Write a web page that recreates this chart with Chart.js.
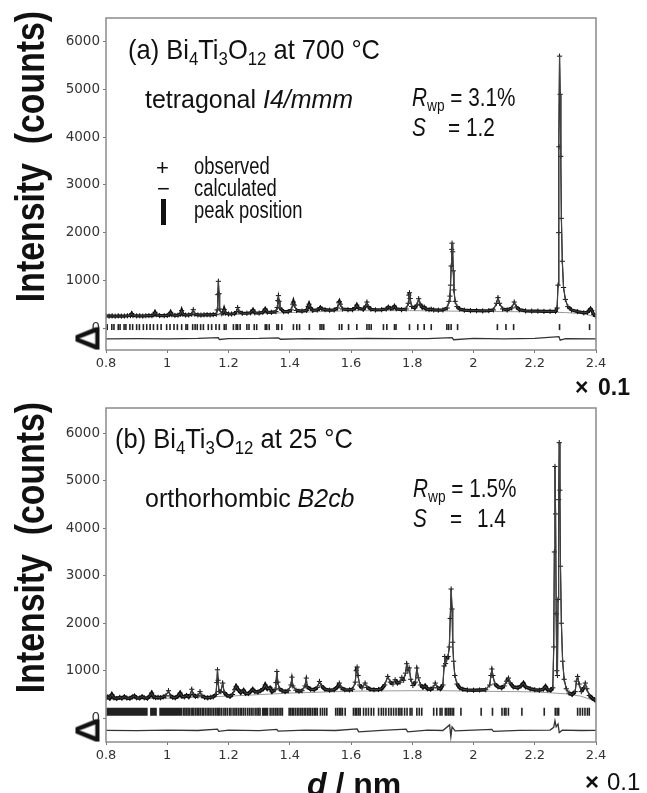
<!DOCTYPE html>
<html>
<head>
<meta charset="utf-8">
<script src="https://cdn.jsdelivr.net/npm/chart.js@4.4.1/dist/chart.umd.min.js"></script>
<style>
  html, body { margin: 0; padding: 0; background: #fff; }
  #wrap { position: relative; width: 647px; height: 793px; overflow: hidden; font-family: "Liberation Sans", Arial, sans-serif; color: #111; }
  canvas { position: absolute; left: 0; }
  .t { position: absolute; white-space: nowrap; line-height: 1; transform-origin: 0 0; }
  .t sub { font-size: 0.66em; vertical-align: -0.3em; line-height: 0; }
  .rot { position: absolute; white-space: nowrap; line-height: 1; text-align: center; font-weight: bold; }
  .bar { position: absolute; background: #111; }
</style>
</head>
<body>
<div id="wrap">
  <canvas id="chartA" width="647" height="380" style="top:0"></canvas>
  <canvas id="chartB" width="647" height="380" style="top:390px"></canvas>

  <!-- panel (a) -->
  <div class="t" style="left:128px;top:36px;font-size:28px;transform:scaleX(0.91)">(a) Bi<sub>4</sub>Ti<sub>3</sub>O<sub>12</sub> at 700 °C</div>
  <div class="t" style="left:145px;top:86px;font-size:26px;transform:scaleX(0.96)">tetragonal <i>I4/mmm</i></div>
  <div class="t" style="left:412px;top:85px;font-size:25px;transform:scaleX(0.83)"><i>R</i><sub>wp</sub> = 3.1%</div>
  <div class="t" style="left:412px;top:115px;font-size:25px;transform:scaleX(0.83)"><i>S</i></div>
  <div class="t" style="left:448px;top:115px;font-size:25px;transform:scaleX(0.83)">= 1.2</div>
  <div class="t" style="left:156px;top:157px;font-size:22px">+</div>
  <div class="t" style="left:157px;top:178px;font-size:22px">−</div>
  <div class="bar" style="left:161px;top:199px;width:5px;height:26px"></div>
  <div class="t" style="left:194px;top:155px;font-size:23px;transform:scaleX(0.8)">observed</div>
  <div class="t" style="left:194px;top:177px;font-size:23px;transform:scaleX(0.8)">calculated</div>
  <div class="t" style="left:194px;top:199px;font-size:23px;transform:scaleX(0.8)">peak position</div>
  <div class="t" style="left:575px;top:376px;font-size:23px;font-weight:bold">×</div>
  <div class="t" style="left:598px;top:376px;font-size:23px;font-weight:bold">0.1</div>

  <!-- panel (b) -->
  <div class="t" style="left:115px;top:425px;font-size:28px;transform:scaleX(0.91)">(b) Bi<sub>4</sub>Ti<sub>3</sub>O<sub>12</sub> at 25 °C</div>
  <div class="t" style="left:145px;top:485px;font-size:26px;transform:scaleX(0.96)">orthorhombic <i>B2cb</i></div>
  <div class="t" style="left:413px;top:476px;font-size:25px;transform:scaleX(0.83)"><i>R</i><sub>wp</sub> = 1.5%</div>
  <div class="t" style="left:413px;top:506px;font-size:25px;transform:scaleX(0.83)"><i>S</i></div>
  <div class="t" style="left:450px;top:506px;font-size:25px;transform:scaleX(0.83)">=</div>
  <div class="t" style="left:477px;top:506px;font-size:25px;transform:scaleX(0.83)">1.4</div>
  <div class="t" style="left:307px;top:768px;font-size:32px;font-weight:bold"><i>d</i> / nm</div>
  <div class="t" style="left:585px;top:770px;font-size:24px;font-weight:bold">×</div>
  <div class="t" style="left:607px;top:770px;font-size:24px">0.1</div>

  <!-- rotated axis titles -->
  <div class="rot" style="left:-170px;top:136px;width:400px;font-size:41px;transform:rotate(-90deg) scaleX(0.825)">Intensity&nbsp; (counts)</div>
  <div class="rot" style="left:-170px;top:527px;width:400px;font-size:41px;transform:rotate(-90deg) scaleX(0.825)">Intensity&nbsp; (counts)</div>
  <div class="rot" style="left:67px;top:321px;width:40px;font-size:35px;transform:rotate(-90deg)">Δ</div>
  <div class="rot" style="left:67px;top:713px;width:40px;font-size:35px;transform:rotate(-90deg)">Δ</div>
</div>

<script>
// ---- axis ticks
const xTicks = [0.8, 1, 1.2, 1.4, 1.6, 1.8, 2, 2.2, 2.4];
const yTicks = [0, 1000, 2000, 3000, 4000, 5000, 6000];

// ---- (a) 700 °C, tetragonal : [d (x0.1 nm), counts]
const obsA = [
  [0.800,255],[0.810,250],[0.820,255],[0.830,248],[0.840,256],[0.850,250],[0.860,252],[0.870,258],
  [0.880,262],[0.884,305],[0.888,262],[0.900,255],[0.910,258],[0.920,252],[0.930,258],[0.940,262],
  [0.950,260],[0.956,280],[0.960,330],[0.964,280],[0.975,262],[0.990,260],[1.000,265],[1.007,282],
  [1.011,330],[1.015,280],[1.025,265],[1.035,270],[1.043,290],[1.047,365],[1.051,290],[1.060,272],
  [1.070,275],[1.080,290],[1.085,385],[1.090,290],[1.100,275],[1.110,272],[1.120,278],[1.130,280],
  [1.140,275],[1.150,282],[1.160,290],[1.163,380],[1.165,700],[1.167,980],[1.169,720],[1.171,400],
  [1.178,300],[1.183,320],[1.186,390],[1.190,315],[1.200,295],[1.210,295],[1.220,305],[1.226,340],
  [1.230,430],[1.234,345],[1.245,310],[1.260,310],[1.272,320],[1.280,380],[1.286,320],[1.300,315],
  [1.312,330],[1.320,400],[1.327,335],[1.340,330],[1.355,345],[1.359,430],[1.361,580],[1.363,680],
  [1.365,560],[1.368,420],[1.380,345],[1.395,345],[1.405,380],[1.410,500],[1.412,545],[1.415,480],
  [1.422,370],[1.440,355],[1.455,370],[1.460,450],[1.463,500],[1.467,430],[1.475,370],[1.490,380],
  [1.497,410],[1.500,430],[1.505,405],[1.515,385],[1.530,375],[1.545,380],[1.556,420],[1.560,530],
  [1.562,555],[1.565,500],[1.572,400],[1.590,385],[1.605,385],[1.615,430],[1.619,480],[1.624,420],
  [1.640,390],[1.648,460],[1.652,545],[1.656,450],[1.665,395],[1.680,380],[1.700,385],[1.715,400],
  [1.722,440],[1.730,410],[1.737,420],[1.742,460],[1.748,405],[1.765,385],[1.780,400],[1.787,520],
  [1.789,690],[1.791,740],[1.793,620],[1.798,450],[1.808,420],[1.815,480],[1.821,615],[1.826,500],
  [1.833,430],[1.839,440],[1.845,400],[1.855,385],[1.862,395],[1.870,380],[1.885,375],[1.900,380],
  [1.914,420],[1.920,560],[1.923,670],[1.925,900],[1.927,1300],[1.929,1650],[1.930,1780],[1.932,1600],
  [1.934,1200],[1.936,800],[1.940,560],[1.946,450],[1.955,400],[1.970,375],[1.990,365],[2.010,365],
  [2.030,360],[2.050,365],[2.065,380],[2.075,520],[2.080,637],[2.085,520],[2.095,400],[2.110,380],
  [2.125,420],[2.133,545],[2.140,440],[2.150,385],[2.170,360],[2.190,355],[2.210,355],[2.230,350],
  [2.250,350],[2.268,350],[2.273,420],[2.276,900],[2.278,2000],[2.279,3800],[2.281,5700],[2.283,4900],
  [2.285,3600],[2.287,2300],[2.290,1400],[2.294,850],[2.300,600],[2.308,450],[2.320,380],[2.340,345],
  [2.360,320],[2.372,330],[2.378,370],[2.382,405],[2.386,370],[2.392,290],[2.400,245]
];
const calcA = obsA; // the fitted curve sits inside the observed markers at this scale
const bgA = [[0.8,240],[1.0,250],[1.2,280],[1.4,325],[1.6,365],[1.8,365],[2.0,350],[2.2,340],[2.3,325],[2.36,300],[2.4,232]];
const peaksA = [
  0.804,0.819,0.826,0.840,0.846,0.859,0.865,0.878,0.887,0.900,0.909,0.922,0.933,0.944,0.955,0.968,
  0.980,0.998,1.009,1.022,1.033,1.047,1.061,1.066,1.083,1.091,1.098,1.109,1.118,1.134,1.145,1.159,
  1.170,1.186,1.192,1.216,1.225,1.230,1.238,1.260,1.267,1.284,1.292,1.320,1.325,1.333,1.358,1.363,
  1.374,1.412,1.423,1.432,1.464,1.499,1.505,1.511,1.562,1.570,1.592,1.619,1.652,1.659,1.666,1.706,
  1.717,1.742,1.747,1.791,1.818,1.839,1.862,1.913,1.919,1.927,1.948,2.078,2.106,2.131,2.281,2.379
];
const diffA = [
  [0.8,-225],[0.9,-220],[1.0,-228],[1.1,-218],[1.167,-200],[1.170,-240],[1.2,-222],[1.3,-218],
  [1.363,-205],[1.370,-235],[1.45,-220],[1.55,-225],[1.65,-215],[1.75,-222],[1.85,-220],[1.930,-200],
  [1.935,-245],[2.0,-215],[2.1,-225],[2.2,-218],[2.279,-180],[2.283,-255],[2.3,-222],[2.4,-225]
];

// ---- (b) 25 °C, orthorhombic
const obsB = [
  [0.800,430],[0.806,450],[0.812,420],[0.819,500],[0.826,430],[0.835,415],[0.845,440],[0.852,420],
  [0.860,455],[0.868,425],[0.878,420],[0.886,450],[0.893,470],[0.900,430],[0.910,425],[0.918,455],
  [0.925,430],[0.935,420],[0.942,460],[0.949,530],[0.955,450],[0.962,435],[0.970,440],[0.978,430],
  [0.987,450],[0.995,470],[1.004,580],[1.010,470],[1.018,440],[1.026,430],[1.034,460],[1.042,530],
  [1.048,460],[1.056,450],[1.063,480],[1.070,450],[1.076,500],[1.080,610],[1.085,500],[1.092,460],
  [1.100,470],[1.107,560],[1.113,470],[1.122,440],[1.132,430],[1.142,440],[1.150,450],[1.159,500],
  [1.162,750],[1.164,1020],[1.166,800],[1.169,560],[1.175,560],[1.181,740],[1.186,540],[1.195,480],
  [1.205,460],[1.213,500],[1.220,600],[1.225,670],[1.232,600],[1.240,540],[1.249,590],[1.256,520],
  [1.265,520],[1.272,560],[1.279,610],[1.286,560],[1.296,550],[1.305,580],[1.314,620],[1.320,700],
  [1.327,620],[1.336,640],[1.342,560],[1.352,600],[1.355,750],[1.358,985],[1.361,760],[1.366,620],
  [1.375,580],[1.385,560],[1.395,580],[1.404,700],[1.407,865],[1.410,680],[1.420,590],[1.430,570],
  [1.440,580],[1.450,680],[1.454,845],[1.457,660],[1.468,610],[1.480,600],[1.490,650],[1.497,775],
  [1.504,680],[1.515,610],[1.530,590],[1.545,600],[1.556,660],[1.562,740],[1.568,640],[1.580,600],
  [1.595,595],[1.605,610],[1.614,760],[1.617,1000],[1.620,1078],[1.623,900],[1.628,700],[1.636,640],
  [1.646,740],[1.652,650],[1.662,610],[1.675,600],[1.690,605],[1.700,620],[1.710,700],[1.720,880],
  [1.728,760],[1.737,720],[1.744,810],[1.752,740],[1.760,760],[1.766,860],[1.772,800],[1.778,950],
  [1.782,1147],[1.786,1000],[1.790,1060],[1.795,820],[1.802,690],[1.810,760],[1.815,1057],[1.820,850],
  [1.827,700],[1.835,650],[1.842,684],[1.850,620],[1.860,610],[1.868,640],[1.875,740],[1.882,640],
  [1.892,620],[1.900,700],[1.904,1100],[1.906,1300],[1.909,1150],[1.913,1250],[1.917,1300],[1.921,1500],
  [1.924,2100],[1.927,2720],[1.930,2300],[1.932,1600],[1.935,1200],[1.939,900],[1.946,720],[1.955,640],
  [1.965,610],[1.980,595],[2.000,590],[2.020,595],[2.040,600],[2.053,700],[2.057,900],[2.060,1036],
  [2.063,900],[2.070,720],[2.080,660],[2.092,640],[2.100,680],[2.108,780],[2.114,846],[2.120,740],
  [2.130,660],[2.145,640],[2.155,680],[2.163,740],[2.170,660],[2.185,620],[2.200,600],[2.215,590],
  [2.228,610],[2.235,670],[2.242,600],[2.252,590],[2.259,640],[2.262,1500],[2.264,3500],[2.266,5300],
  [2.268,4300],[2.270,2200],[2.272,1000],[2.274,900],[2.276,2500],[2.278,4600],[2.280,5800],[2.282,4800],
  [2.284,3200],[2.287,2000],[2.291,1200],[2.296,820],[2.303,620],[2.312,530],[2.322,500],[2.332,560],
  [2.336,780],[2.340,880],[2.345,720],[2.352,560],[2.360,640],[2.365,740],[2.370,620],[2.378,480],
  [2.388,420],[2.395,390],[2.400,370]
];
const calcB = obsB;
const bgB = [[0.8,400],[1.0,420],[1.2,465],[1.4,530],[1.6,570],[1.8,580],[1.9,580],[2.0,570],[2.2,555],[2.3,515],[2.35,465],[2.4,360]];
// dense runs of reflections that merge into solid blocks
const bandsB = [[0.801,0.936],[0.944,0.966],[0.974,1.050],[1.309,1.330]];
const peaksB = [
  1.054,1.058,1.063,1.068,1.072,1.078,1.083,1.087,1.093,1.098,1.103,1.108,1.114,1.118,1.124,1.130,
  1.135,1.140,1.146,1.152,1.158,1.163,1.168,1.172,1.178,1.185,1.190,1.196,1.203,1.208,1.215,1.221,
  1.226,1.232,1.238,1.243,1.249,1.255,1.262,1.268,1.274,1.280,1.287,1.293,1.298,1.303,1.336,1.342,
  1.348,1.354,1.359,1.365,1.371,1.376,1.398,1.403,1.408,1.413,1.419,1.425,1.430,1.436,1.441,1.447,
  1.452,1.458,1.463,1.468,1.474,1.480,1.485,1.490,1.500,1.507,1.514,1.521,1.550,1.556,1.562,1.567,
  1.572,1.581,1.608,1.614,1.619,1.625,1.630,1.641,1.649,1.657,1.666,1.674,1.690,1.699,1.706,1.714,
  1.723,1.731,1.739,1.747,1.755,1.760,1.766,1.775,1.783,1.793,1.799,1.815,1.823,1.831,1.870,1.880,
  1.891,1.897,1.908,1.913,1.919,1.924,1.930,1.935,1.959,2.025,2.062,2.093,2.101,2.106,2.114,2.158,
  2.231,2.267,2.273,2.278,2.340,2.348,2.356,2.364,2.372,2.378
];
const diffB = [
  [0.8,-255],[0.9,-262],[1.0,-250],[1.1,-258],[1.164,-230],[1.168,-275],[1.2,-252],[1.3,-262],
  [1.358,-235],[1.362,-270],[1.45,-250],[1.55,-258],[1.620,-225],[1.625,-285],[1.7,-255],[1.780,-230],
  [1.785,-285],[1.85,-250],[1.9,-258],[1.922,-140],[1.926,-390],[1.930,-180],[1.94,-265],[2.0,-252],
  [2.060,-235],[2.065,-275],[2.15,-255],[2.25,-250],[2.262,-190],[2.266,-50],[2.270,-180],[2.276,-120],
  [2.280,-300],[2.29,-250],[2.35,-258],[2.4,-255]
];

const pts = arr => arr.map(([x, y]) => ({ x, y }));

// plot frame on all four sides
const framePlugin = {
  id: 'frame',
  afterDraw(chart) {
    const { ctx, chartArea: a } = chart;
    ctx.save();
    ctx.strokeStyle = '#8a8a8a';
    ctx.lineWidth = 1.5;
    ctx.strokeRect(a.left, a.top, a.right - a.left, a.bottom - a.top);
    ctx.restore();
  }
};

function makePanel(id, p) {
  const bandPts = [];
  p.bands.forEach(([a, b]) => {
    bandPts.push({ x: a, y: p.tickY }, { x: b, y: p.tickY }, { x: b, y: null });
  });

  return new Chart(document.getElementById(id), {
    type: 'scatter',
    data: {
      datasets: [
        { data: pts(p.calc), showLine: true, borderColor: '#444', borderWidth: 1, pointRadius: 0 },
        { data: pts(p.obs), showLine: true, borderColor: '#111', borderWidth: 3,
          // thick band along the background, thin strokes up the peaks
          segment: { borderWidth: c => Math.abs(c.p1.y - c.p0.y) > 4 ? 1.2 : p.baseWidth },
          pointStyle: 'cross', pointRadius: 2.6, pointBorderWidth: 1, pointBorderColor: '#111' },
        { data: pts(p.bg), showLine: true, borderColor: '#9a9a9a', borderWidth: 1, pointRadius: 0 },
        { data: p.peaks.map(d => ({ x: d, y: p.tickY })), showLine: false, pointStyle: 'line',
          rotation: 90, pointRadius: p.tickHalf, pointBorderWidth: 1.6, pointBorderColor: '#222' },
        { data: bandPts, showLine: true, spanGaps: false, borderColor: '#222',
          borderWidth: p.tickHalf * 2, borderCapStyle: 'butt', pointRadius: 0 },
        { data: pts(p.diff), showLine: true, borderColor: '#333', borderWidth: 1.3, pointRadius: 0 }
      ]
    },
    options: {
      responsive: false,
      animation: false,
      layout: { padding: { top: 18, right: 51, left: 0, bottom: 0 } },
      plugins: { legend: { display: false }, tooltip: { enabled: false } },
      scales: {
        x: {
          type: 'linear', min: 0.8, max: 2.4,
          afterBuildTicks: s => { s.ticks = xTicks.map(v => ({ value: v })); },
          afterFit: s => { s.height = p.xHeight; },
          ticks: { font: { family: 'DejaVu Sans', size: 13 }, color: '#333', padding: 3,
                   maxRotation: 0, autoSkip: false, callback: v => String(+v.toFixed(1)) },
          grid: { drawOnChartArea: false, tickLength: 3, color: '#777' },
          border: { display: false }
        },
        y: {
          min: p.yMin, max: p.yMax,
          afterBuildTicks: s => { s.ticks = yTicks.map(v => ({ value: v })); },
          afterFit: s => { s.width = 106; },
          ticks: { font: { family: 'DejaVu Sans', size: 13.5 }, color: '#333', padding: 3,
                   callback: v => String(v) },
          grid: { drawOnChartArea: false, tickLength: 3, color: '#777' },
          border: { display: false }
        }
      }
    },
    plugins: [framePlugin]
  });
}

makePanel('chartA', { obs: obsA, calc: calcA, bg: bgA, peaks: peaksA, bands: [], diff: diffA,
  yMin: -460, yMax: 6500, tickY: 20, tickHalf: 3, xHeight: 30, baseWidth: 3.2 });
makePanel('chartB', { obs: obsB, calc: calcB, bg: bgB, peaks: peaksB, bands: bandsB, diff: diffB,
  yMin: -500, yMax: 6530, tickY: 137, tickHalf: 4, xHeight: 28, baseWidth: 3.6 });
</script>
</body>
</html>
